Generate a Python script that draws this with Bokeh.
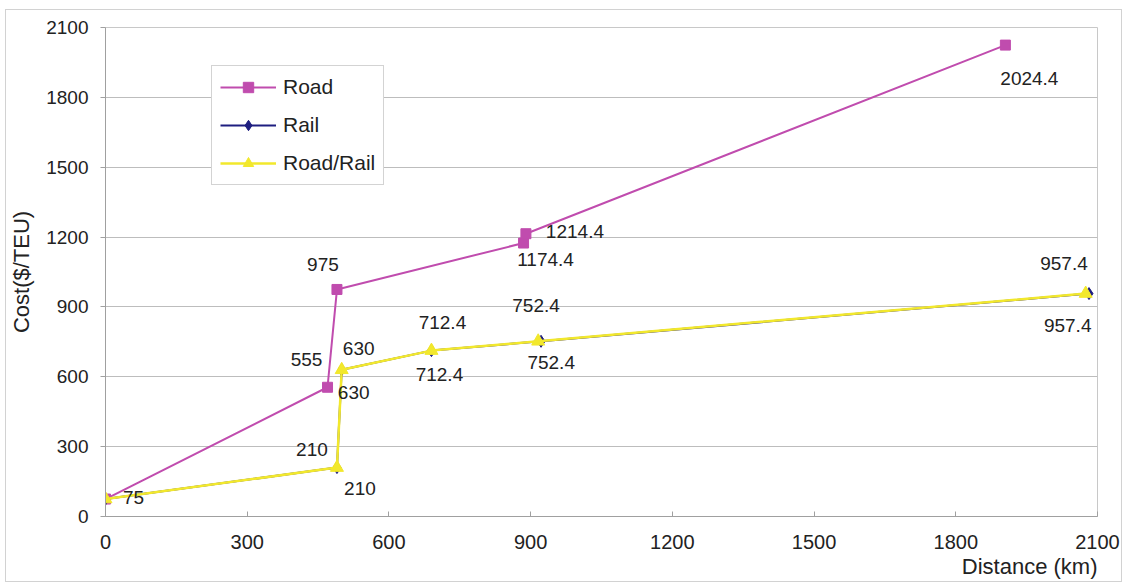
from bokeh.plotting import figure
from bokeh.models import (Range1d, FixedTicker, Legend, LegendItem, Title,
                          ColumnDataSource, LabelSet)
from bokeh.core.properties import value
from bokeh.embed import file_html
from bokeh.resources import INLINE

# ---------------- data ----------------
road_x = [0, 470, 490, 885, 890, 1905]
road_y = [75, 555, 975, 1174.4, 1214.4, 2024.4]

rail_x = [0, 490, 500, 690, 922, 2082]
rail_y = [75, 210, 630, 712.4, 752.4, 957.4]

roadrail_x = [0, 490, 500, 690, 916, 2075]
roadrail_y = [75, 210, 630, 712.4, 752.4, 957.4]

tick_values = [0, 300, 600, 900, 1200, 1500, 1800, 2100]

# label placement (pixel offsets, +dx right, +dy up)
road_lbl_dx = [28, -21, -14, 22, 49, 24]
road_lbl_dy = [2, 28, 25, -16, 2, -33]
rail_lbl_dx = [-25, 17, 11, -5, -25]
rail_lbl_dy = [18, 21, 28, 36, 30]
rr_lbl_dx = [23, 12, 8, 13, -18]
rr_lbl_dy = [-21, -23, -24, -21, -32]

FONT = "Liberation Sans"
ROAD_C = "#C04CAE"
RAIL_C = "#1E1E80"
RR_C = "#F2E82C"
TXT_C = "#222222"

p = figure(width=1111, height=571, output_backend="svg", toolbar_location=None,
           x_range=Range1d(0, 2100), y_range=Range1d(0, 2100),
           min_border_left=95, min_border_right=24, min_border_top=17,
           min_border_bottom=65)
p.frame_width = 992
p.frame_height = 489
p.styles = {"border": "1px solid #d2d2d2", "margin-left": "5px",
            "margin-top": "9px"}
p.outline_line_color = "#c8c8c8"
p.background_fill_color = "white"
p.border_fill_color = "white"

p.xgrid.visible = False
p.ygrid.ticker = FixedTicker(ticks=tick_values)
p.ygrid.grid_line_color = "#bdbdbd"
p.ygrid.grid_line_width = 1.2

p.xaxis.ticker = FixedTicker(ticks=tick_values)
p.yaxis.ticker = FixedTicker(ticks=tick_values)
for ax in (p.xaxis, p.yaxis):
    ax.axis_line_color = "#a0a0a0"
    ax.major_tick_line_color = "#a0a0a0"
    ax.minor_tick_line_color = None
    ax.major_label_text_font = FONT
    ax.major_label_text_color = TXT_C
p.xaxis.major_tick_in = 5
p.xaxis.major_tick_out = 0
p.xaxis.major_label_text_font_size = "20px"
p.xaxis.major_label_standoff = 18
p.yaxis.major_tick_in = 0
p.yaxis.major_tick_out = 5
p.yaxis.major_label_text_font_size = "19px"
p.yaxis.major_label_standoff = 12

p.yaxis.axis_label = "Cost($/TEU)"
p.yaxis.axis_label_text_font = FONT
p.yaxis.axis_label_text_font_size = "22px"
p.yaxis.axis_label_text_font_style = "normal"
p.yaxis.axis_label_text_color = TXT_C
p.yaxis.axis_label_standoff = 9

xt = Title(text="Distance (km)", align="right", offset=0, standoff=0,
           text_font=FONT, text_font_size="22px", text_font_style="normal",
           text_color=TXT_C)
p.add_layout(xt, "below")

# ---------------- series ----------------
r_road_l = p.line(road_x, road_y, line_color=ROAD_C, line_width=2)
r_road_m = p.scatter(road_x, road_y, marker="square", size=10,
                     fill_color=ROAD_C, line_color=ROAD_C)

r_rail_l = p.line(rail_x, rail_y, line_color=RAIL_C, line_width=2)
r_rail_m = p.scatter(rail_x, rail_y, marker="diamond", size=12,
                     fill_color=RAIL_C, line_color=RAIL_C)

r_rr_l = p.line(roadrail_x, roadrail_y, line_color=RR_C, line_width=2.5)
r_rr_m = p.scatter(roadrail_x, roadrail_y, marker="triangle", size=13,
                   fill_color=RR_C, line_color=RR_C)

# ---------------- data labels ----------------
def add_labels(xs, ys, dx, dy):
    src = ColumnDataSource(dict(x=xs, y=ys, t=[f"{v:g}" for v in ys],
                                dx=dx, dy=dy))
    ls = LabelSet(x="x", y="y", text="t", source=src, x_offset="dx",
                  y_offset="dy", text_align="center", text_baseline="middle",
                  text_font=value(FONT), text_font_size=value("19px"),
                  text_color=TXT_C)
    p.add_layout(ls)

add_labels(road_x, road_y, road_lbl_dx, road_lbl_dy)
add_labels(rail_x[1:], rail_y[1:], rail_lbl_dx, rail_lbl_dy)
add_labels(roadrail_x[1:], roadrail_y[1:], rr_lbl_dx, rr_lbl_dy)

# ---------------- legend ----------------
legend = Legend(items=[
    LegendItem(label="Road", renderers=[r_road_l, r_road_m]),
    LegendItem(label="Rail", renderers=[r_rail_l, r_rail_m]),
    LegendItem(label="Road/Rail", renderers=[r_rr_l, r_rr_m]),
], location=(106, 331))
legend.label_text_font = FONT
legend.label_text_font_size = "21px"
legend.label_text_color = TXT_C
legend.glyph_width = 56
legend.glyph_height = 26
legend.label_height = 26
legend.label_standoff = 7
legend.spacing = 12
legend.padding = 8
legend.margin = 0
legend.border_line_color = "#a8a8a8"
legend.border_line_width = 1
legend.background_fill_alpha = 1
p.add_layout(legend)

open("out.html", "w").write(file_html(p, INLINE))
